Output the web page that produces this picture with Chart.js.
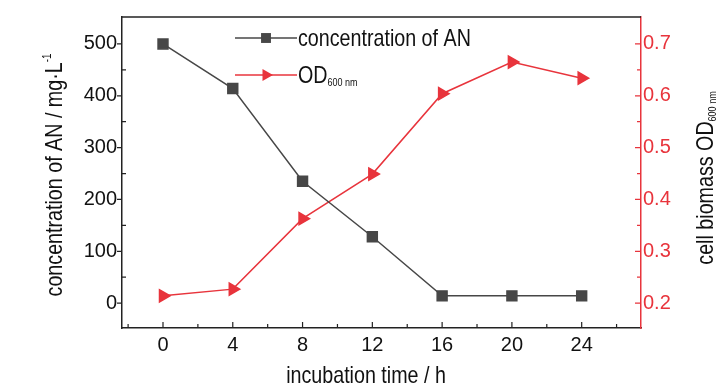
<!DOCTYPE html>
<html>
<head>
<meta charset="utf-8">
<script src="https://cdn.jsdelivr.net/npm/chart.js@4.4.1/dist/chart.umd.min.js"></script>
<style>
html,body{margin:0;padding:0;background:#fff;}
canvas{display:block;}
</style>
</head>
<body>
<canvas id="grafica" width="728" height="390"></canvas>
<script>

/* =====================================
   DATA
===================================== */

const hours = [0, 4, 8, 12, 16, 20, 24];

const anConcentration = [500, 414, 235, 128, 14, 14, 14];

const od600 = [0.214, 0.227, 0.363, 0.449, 0.604, 0.665, 0.634];

const xMajor = [0, 4, 8, 12, 16, 20, 24];
const xMinor = [-2, 2, 6, 10, 14, 18, 22, 26];

const leftMajor = [0, 100, 200, 300, 400, 500];
const leftMinor = [50, 150, 250, 350, 450];

const rightMajor = [0.2, 0.3, 0.4, 0.5, 0.6, 0.7];
const rightMinor = [0.25, 0.35, 0.45, 0.55, 0.65];

/* =====================================
   STYLE
===================================== */

const FONT = "'Liberation Sans', Arial, sans-serif";
const NARROW = 0.82;
const RED = "#e8343c";
const GREY = "#474747";
const INK = "#222";

/* =====================================
   CONDENSED TEXT
===================================== */

function drawText(ctx, parts, x, y, align){

    // parts: [text, size, shift]
    let total = 0;

    parts.forEach(p=>{
        ctx.font = p[1] + "px " + FONT;
        total += ctx.measureText(p[0]).width * NARROW;
    });

    ctx.save();
    ctx.translate(align === "center" ? x - total/2 : x, y);
    ctx.scale(NARROW, 1);

    let cx = 0;

    parts.forEach(p=>{
        ctx.font = p[1] + "px " + FONT;
        ctx.fillText(p[0], cx, p[2]);
        cx += ctx.measureText(p[0]).width;
    });

    ctx.restore();

}

/* =====================================
   TICKS, TITLES, LEGEND
===================================== */

const decor = {

    id:"decor",

    afterDraw(chart){

        const ctx = chart.ctx;
        const area = chart.chartArea;
        const sx = chart.scales.x;
        const sl = chart.scales.yLeft;
        const sr = chart.scales.yRight;

        ctx.save();

        // top frame
        ctx.strokeStyle = INK;
        ctx.lineWidth = 1.5;
        ctx.beginPath();
        ctx.moveTo(area.left, area.top);
        ctx.lineTo(area.right, area.top);
        ctx.stroke();

        // x ticks (inward)
        ctx.lineWidth = 1.2;
        ctx.beginPath();
        xMajor.forEach(v=>{
            const px = sx.getPixelForValue(v);
            ctx.moveTo(px, area.bottom);
            ctx.lineTo(px, area.bottom - 6);
        });
        xMinor.forEach(v=>{
            const px = sx.getPixelForValue(v);
            ctx.moveTo(px, area.bottom);
            ctx.lineTo(px, area.bottom - 4);
        });
        ctx.stroke();

        // left ticks
        ctx.beginPath();
        leftMajor.forEach(v=>{
            const py = sl.getPixelForValue(v);
            ctx.moveTo(area.left, py);
            ctx.lineTo(area.left - 5, py);
        });
        leftMinor.forEach(v=>{
            const py = sl.getPixelForValue(v);
            ctx.moveTo(area.left, py);
            ctx.lineTo(area.left + 4, py);
        });
        ctx.stroke();

        // right ticks
        ctx.strokeStyle = RED;
        ctx.beginPath();
        rightMajor.forEach(v=>{
            const py = sr.getPixelForValue(v);
            ctx.moveTo(area.right, py);
            ctx.lineTo(area.right - 6, py);
        });
        rightMinor.forEach(v=>{
            const py = sr.getPixelForValue(v);
            ctx.moveTo(area.right, py);
            ctx.lineTo(area.right - 4, py);
        });
        ctx.stroke();

        // axis titles
        ctx.fillStyle = "#111";
        ctx.textBaseline = "alphabetic";

        drawText(ctx, [["incubation time / h", 24, 0]], 366, 383, "center");

        ctx.save();
        ctx.translate(62, 175);
        ctx.rotate(-Math.PI/2);
        drawText(ctx, [["concentration of AN / mg\u00b7L", 24, 0], ["-1", 12, -11]], 0, 0, "center");
        ctx.restore();

        ctx.save();
        ctx.translate(713, 178);
        ctx.rotate(-Math.PI/2);
        drawText(ctx, [["cell biomass OD", 24, 0], ["600 nm", 11, 3]], 0, 0, "center");
        ctx.restore();

        // legend
        const rows = [
            {y:38, color:GREY, style:"rect", parts:[["concentration of AN", 24, 0]]},
            {y:75, color:RED, style:"triangle", parts:[["OD", 24, 0], ["600 nm", 11, 3]]}
        ];

        rows.forEach(r=>{

            ctx.strokeStyle = r.color;
            ctx.lineWidth = 1.5;
            ctx.beginPath();
            ctx.moveTo(235, r.y);
            ctx.lineTo(297, r.y);
            ctx.stroke();

            ctx.fillStyle = r.color;
            Chart.helpers.drawPoint(ctx, {
                pointStyle:r.style,
                radius:7,
                rotation:r.style === "triangle" ? 90 : 0
            }, 266, r.y);

            ctx.fillStyle = "#111";
            drawText(ctx, r.parts, 298, r.y + 8, "left");

        });

        ctx.restore();

    }

};

/* =====================================
   CHART
===================================== */

new Chart(

    document.getElementById("grafica"),

    {

        type:"line",

        data:{

            datasets:[

                {
                    label:"concentration of AN",
                    data:hours.map((h,i)=>({x:h, y:anConcentration[i]})),
                    yAxisID:"yLeft",
                    borderColor:GREY,
                    backgroundColor:GREY,
                    borderWidth:1.5,
                    pointStyle:"rect",
                    pointRadius:7,
                    pointHoverRadius:7,
                    tension:0
                },

                {
                    label:"OD600 nm",
                    data:hours.map((h,i)=>({x:h, y:od600[i]})),
                    yAxisID:"yRight",
                    borderColor:RED,
                    backgroundColor:RED,
                    borderWidth:1.5,
                    pointStyle:"triangle",
                    pointRotation:90,
                    pointRadius:7,
                    pointHoverRadius:7,
                    tension:0
                }

            ]

        },

        options:{

            responsive:false,
            animation:false,

            layout:{
                padding:{top:16, left:0, right:0, bottom:0}
            },

            plugins:{
                legend:{display:false},
                tooltip:{enabled:false}
            },

            scales:{

                x:{
                    type:"linear",
                    min:-2.35,
                    max:27.4,
                    afterFit(scale){ scale.height = 62; },
                    afterBuildTicks(scale){ scale.ticks = xMajor.map(v=>({value:v})); },
                    grid:{display:false, drawTicks:false},
                    border:{display:true, color:INK, width:1.5},
                    ticks:{
                        padding:5,
                        color:"#111",
                        font:{family:FONT, size:20},
                        maxRotation:0,
                        autoSkip:false
                    }
                },

                yLeft:{
                    position:"left",
                    min:-48,
                    max:552,
                    afterFit(scale){ scale.width = 122; },
                    afterBuildTicks(scale){ scale.ticks = leftMajor.map(v=>({value:v})); },
                    grid:{display:false, drawTicks:false},
                    border:{display:true, color:INK, width:1.5},
                    ticks:{
                        padding:5,
                        color:"#111",
                        font:{family:FONT, size:20},
                        autoSkip:false
                    }
                },

                yRight:{
                    position:"right",
                    min:0.152,
                    max:0.752,
                    afterFit(scale){ scale.width = 87; },
                    afterBuildTicks(scale){ scale.ticks = rightMajor.map(v=>({value:v})); },
                    grid:{display:false, drawTicks:false},
                    border:{display:true, color:RED, width:1.5},
                    ticks:{
                        padding:2,
                        color:RED,
                        font:{family:FONT, size:20},
                        autoSkip:false,
                        callback:v=>v.toFixed(1)
                    }
                }

            }

        },

        plugins:[decor]

    }

);

</script>
</body>
</html>
